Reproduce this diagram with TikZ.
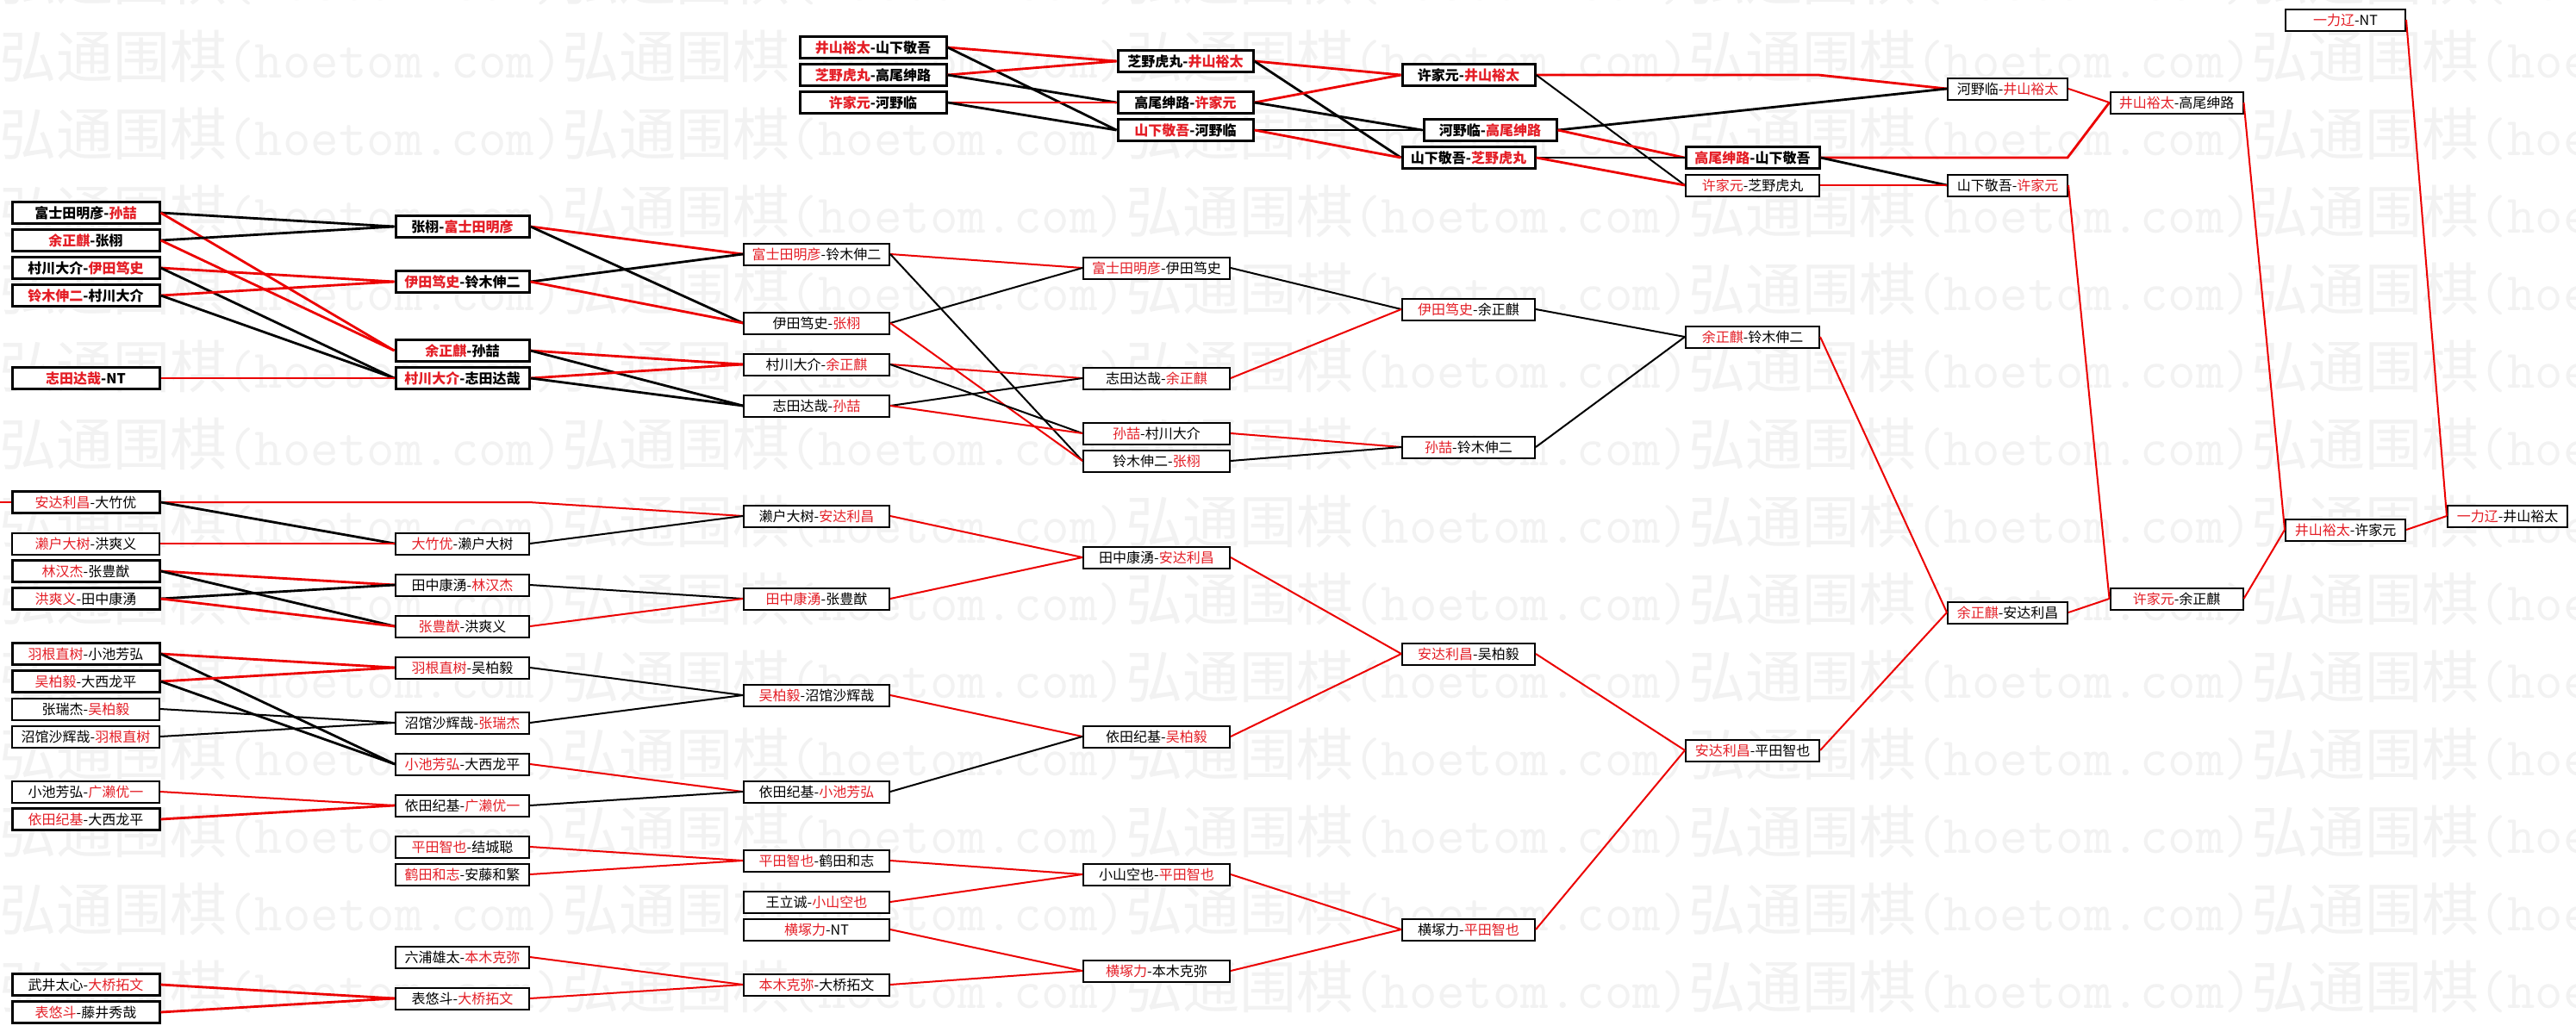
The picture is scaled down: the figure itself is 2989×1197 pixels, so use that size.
\documentclass[tikz,border=0pt]{standalone}
\usepackage{fontspec}
\setmainfont{Noto Sans CJK SC}
\newfontfamily\wmcjk{Noto Sans CJK SC}
\definecolor{wred}{RGB}{228,30,38}
\definecolor{lred}{RGB}{236,0,0}
\newcommand\rd[1]{\textcolor{wred}{#1}}
\newcommand\wmunit{{\wmcjk\fontsize{66}{66}\selectfont 弘通围棋}{\ttfamily\fontsize{63}{63}\selectfont (hoetom.com)}}
\newcommand\wmrow{\wmunit\wmunit\wmunit\wmunit\wmunit\wmunit}
\tikzset{
  box/.style={draw=black, fill=white, inner sep=0pt, minimum height=25pt,
    font=\fontsize{16}{18}\selectfont, line width=2pt},
  tb/.style={box, line width=3pt, font=\fontsize{16}{18}\selectfont\bfseries},
  tr/.style={box, line width=3pt},
  mr/.style={box},
  cwa/.style={minimum width=171pt},
  cwb/.style={minimum width=155pt},
  cwc/.style={minimum width=169pt},
  cwd/.style={minimum width=170pt},
  cwe/.style={minimum width=154pt},
  cwg/.style={minimum width=139pt},
  cwB/.style={minimum width=157pt},
  rl/.style={draw=lred, line width=2pt},
  bl/.style={draw=black, line width=2pt},
  rlt/.style={draw=lred, line width=2.8pt},
  blt/.style={draw=black, line width=2.8pt},
  wm/.style={text=black!5, inner sep=0pt}
}
\begin{document}
\begin{tikzpicture}[x=1pt,y=-1pt]
\useasboundingbox (0,0) rectangle (2989,1197);
\fill[white] (0,0) rectangle (2989,1197);
\begin{scope}
\clip (0,0) rectangle (2989,1197);
\foreach \k in {0,...,14} {\node[wm, anchor=base west] (wm\k) at (-654,{90*\k}) {\wmrow};}
\end{scope}

% ---------- column 1 ----------
\node[tb,cwa] (a15) at (99.5,247) {富士田明彦-\rd{孙喆}};
\node[tb,cwa] (a17) at (99.5,279) {\rd{余正麒}-张栩};
\node[tb,cwa] (a19) at (99.5,311) {村川大介-\rd{伊田笃史}};
\node[tb,cwa] (a21) at (99.5,343) {\rd{铃木伸二}-村川大介};
\node[tb,cwa] (a27) at (99.5,439) {\rd{志田达哉}-NT};
\node[tr,cwa] (a36) at (99.5,583) {\rd{安达利昌}-大竹优};
\node[mr,cwa] (a39) at (99.5,631) {\rd{濑户大树}-洪爽义};
\node[tr,cwa] (a41) at (99.5,663) {\rd{林汉杰}-张豊猷};
\node[tr,cwa] (a43) at (99.5,695) {\rd{洪爽义}-田中康湧};
\node[tr,cwa] (a47) at (99.5,759) {\rd{羽根直树}-小池芳弘};
\node[tr,cwa] (a49) at (99.5,791) {\rd{吴柏毅}-大西龙平};
\node[mr,cwa] (a51) at (99.5,823) {张瑞杰-\rd{吴柏毅}};
\node[mr,cwa] (a53) at (99.5,855) {沼馆沙辉哉-\rd{羽根直树}};
\node[mr,cwa] (a57) at (99.5,919) {小池芳弘-\rd{广濑优一}};
\node[tr,cwa] (a59) at (99.5,951) {\rd{依田纪基}-大西龙平};
\node[tr,cwa] (a71) at (99.5,1143) {武井太心-\rd{大桥拓文}};
\node[tr,cwa] (a73) at (99.5,1175) {\rd{表悠斗}-藤井秀哉};

% ---------- column 2 ----------
\node[tb,cwb] (b16) at (536.5,263) {张栩-\rd{富士田明彦}};
\node[tb,cwb] (b20) at (536.5,327) {\rd{伊田笃史}-铃木伸二};
\node[tb,cwb] (b25) at (536.5,407) {\rd{余正麒}-孙喆};
\node[tb,cwb] (b27) at (536.5,439) {\rd{村川大介}-志田达哉};
\node[mr,cwb] (b39) at (536.5,631) {\rd{大竹优}-濑户大树};
\node[mr,cwb] (b42) at (536.5,679) {田中康湧-\rd{林汉杰}};
\node[mr,cwb] (b45) at (536.5,727) {\rd{张豊猷}-洪爽义};
\node[mr,cwb] (b48) at (536.5,775) {\rd{羽根直树}-吴柏毅};
\node[mr,cwb] (b52) at (536.5,839) {沼馆沙辉哉-\rd{张瑞杰}};
\node[mr,cwb] (b55) at (536.5,887) {\rd{小池芳弘}-大西龙平};
\node[mr,cwb] (b58) at (536.5,935) {依田纪基-\rd{广濑优一}};
\node[mr,cwb] (b61) at (536.5,983) {\rd{平田智也}-结城聪};
\node[mr,cwb] (b63) at (536.5,1015) {\rd{鹤田和志}-安藤和繁};
\node[mr,cwb] (b69) at (536.5,1111) {六浦雄太-\rd{本木克弥}};
\node[mr,cwb] (b72) at (536.5,1159) {表悠斗-\rd{大桥拓文}};

% ---------- column 3 ----------
\node[mr,cwc] (c18) at (947.5,295) {\rd{富士田明彦}-铃木伸二};
\node[mr,cwc] (c23) at (947.5,375) {伊田笃史-\rd{张栩}};
\node[mr,cwc] (c26) at (947.5,423) {村川大介-\rd{余正麒}};
\node[mr,cwc] (c29) at (947.5,471) {志田达哉-\rd{孙喆}};
\node[mr,cwc] (c37) at (947.5,599) {濑户大树-\rd{安达利昌}};
\node[mr,cwc] (c43) at (947.5,695) {\rd{田中康湧}-张豊猷};
\node[mr,cwc] (c50) at (947.5,807) {\rd{吴柏毅}-沼馆沙辉哉};
\node[mr,cwc] (c57) at (947.5,919) {依田纪基-\rd{小池芳弘}};
\node[mr,cwc] (c62) at (947.5,999) {\rd{平田智也}-鹤田和志};
\node[mr,cwc] (c65) at (947.5,1047) {王立诚-\rd{小山空也}};
\node[mr,cwc] (c67) at (947.5,1079) {\rd{横塚力}-NT};
\node[mr,cwc] (c71) at (947.5,1143) {\rd{本木克弥}-大桥拓文};

% ---------- column 4 ----------
\node[mr,cwd] (d19) at (1342,311) {\rd{富士田明彦}-伊田笃史};
\node[mr,cwd] (d27) at (1342,439) {志田达哉-\rd{余正麒}};
\node[mr,cwd] (d31) at (1342,503) {\rd{孙喆}-村川大介};
\node[mr,cwd] (d33) at (1342,535) {铃木伸二-\rd{张栩}};
\node[mr,cwd] (d40) at (1342,647) {田中康湧-\rd{安达利昌}};
\node[mr,cwd] (d53) at (1342,855) {依田纪基-\rd{吴柏毅}};
\node[mr,cwd] (d63) at (1342,1015) {小山空也-\rd{平田智也}};
\node[mr,cwd] (d70) at (1342,1127) {\rd{横塚力}-本木克弥};

% ---------- column 5 ----------
\node[mr,cwe] (e22) at (1704,359) {\rd{伊田笃史}-余正麒};
\node[mr,cwe] (e32) at (1704,519) {\rd{孙喆}-铃木伸二};
\node[mr,cwe] (e47) at (1704,759) {\rd{安达利昌}-吴柏毅};
\node[mr,cwe] (e67) at (1704,1079) {横塚力-\rd{平田智也}};

% ---------- columns 6 to 10 ----------
\node[mr,cwb] (f24) at (2033.5,391) {\rd{余正麒}-铃木伸二};
\node[mr,cwb] (f54) at (2033.5,871) {\rd{安达利昌}-平田智也};
\node[mr,cwg] (g44) at (2329.5,711) {\rd{余正麒}-安达利昌};
\node[mr,cwe] (h43) at (2525.5,695) {\rd{许家元}-余正麒};
\node[mr,cwg] (i38) at (2721.5,615) {\rd{井山裕太}-许家元};
\node[mr,cwg] (i1) at (2721.5,23) {\rd{一力辽}-NT};
\node[mr,cwg] (j37) at (2909.5,599) {\rd{一力辽}-井山裕太};

% ---------- top cluster ----------
\node[tb,cwd] (tA3) at (1013,55) {\rd{井山裕太}-山下敬吾};
\node[tb,cwd] (tA5) at (1013,87) {\rd{芝野虎丸}-高尾绅路};
\node[tb,cwd] (tA7) at (1013,119) {\rd{许家元}-河野临};
\node[tb,cwB] (tB4) at (1375.5,71) {芝野虎丸-\rd{井山裕太}};
\node[tb,cwB] (tB7) at (1375.5,119) {高尾绅路-\rd{许家元}};
\node[tb,cwB] (tB9) at (1375.5,151) {\rd{山下敬吾}-河野临};
\node[tb,cwe] (tC5) at (1704,87) {许家元-\rd{井山裕太}};
\node[tb,cwe] (tC9) at (1729,151) {河野临-\rd{高尾绅路}};
\node[tb,cwe] (tC11) at (1704,183) {山下敬吾-\rd{芝野虎丸}};
\node[tb,cwb] (tD11) at (2033.5,183) {\rd{高尾绅路}-山下敬吾};
\node[mr,cwb] (tD13) at (2033.5,215) {\rd{许家元}-芝野虎丸};
\node[mr,cwg] (tE6) at (2329.5,103) {河野临-\rd{井山裕太}};
\node[mr,cwg] (tE13) at (2329.5,215) {山下敬吾-\rd{许家元}};
\node[mr,cwe] (tF7) at (2525.5,119) {\rd{井山裕太}-高尾绅路};

\coordinate (stub) at (0,583);
\coordinate (bendA) at (614,583);
\coordinate (bendB) at (2110,87);
\coordinate (bendC) at (2399,183);

% ---------- connectors: top-left group ----------
\draw[blt] (a15.east) -- (b16.west);
\draw[rlt] (a15.east) -- (b25.west);
\draw[blt] (a17.east) -- (b16.west);
\draw[rlt] (a17.east) -- (b25.west);
\draw[rlt] (a19.east) -- (b20.west);
\draw[blt] (a19.east) -- (b27.west);
\draw[rlt] (a21.east) -- (b20.west);
\draw[blt] (a21.east) -- (b27.west);
\draw[rlt] (a27.east) -- (b27.west);
\draw[rlt] (b16.east) -- (c18.west);
\draw[blt] (b16.east) -- (c23.west);
\draw[blt] (b20.east) -- (c18.west);
\draw[rlt] (b20.east) -- (c23.west);
\draw[rlt] (b25.east) -- (c26.west);
\draw[blt] (b25.east) -- (c29.west);
\draw[rlt] (b27.east) -- (c26.west);
\draw[blt] (b27.east) -- (c29.west);
\draw[rl] (c18.east) -- (d19.west);
\draw[bl] (c18.east) -- (d33.west);
\draw[bl] (c23.east) -- (d19.west);
\draw[rl] (c23.east) -- (d33.west);
\draw[rl] (c26.east) -- (d27.west);
\draw[bl] (c26.east) -- (d31.west);
\draw[bl] (c29.east) -- (d27.west);
\draw[rl] (c29.east) -- (d31.west);
\draw[bl] (d19.east) -- (e22.west);
\draw[rl] (d27.east) -- (e22.west);
\draw[rl] (d31.east) -- (e32.west);
\draw[bl] (d33.east) -- (e32.west);
\draw[bl] (e22.east) -- (f24.west);
\draw[bl] (e32.east) -- (f24.west);
\draw[rl] (f24.east) -- (g44.west);

% ---------- connectors: middle group ----------
\draw[rl] (stub) -- (a36.west);
\draw[rl] (a36.east) -- (bendA) -- (c37.west);
\draw[blt] (a36.east) -- (b39.west);
\draw[rl] (a39.east) -- (b39.west);
\draw[rlt] (a41.east) -- (b42.west);
\draw[blt] (a41.east) -- (b45.west);
\draw[blt] (a43.east) -- (b42.west);
\draw[rlt] (a43.east) -- (b45.west);
\draw[rlt] (a47.east) -- (b48.west);
\draw[blt] (a47.east) -- (b55.west);
\draw[rlt] (a49.east) -- (b48.west);
\draw[blt] (a49.east) -- (b55.west);
\draw[bl] (a51.east) -- (b52.west);
\draw[bl] (a53.east) -- (b52.west);
\draw[rl] (a57.east) -- (b58.west);
\draw[rlt] (a59.east) -- (b58.west);
\draw[bl] (b39.east) -- (c37.west);
\draw[bl] (b42.east) -- (c43.west);
\draw[rl] (b45.east) -- (c43.west);
\draw[bl] (b48.east) -- (c50.west);
\draw[bl] (b52.east) -- (c50.west);
\draw[rl] (b55.east) -- (c57.west);
\draw[bl] (b58.east) -- (c57.west);
\draw[rl] (c37.east) -- (d40.west);
\draw[rl] (c43.east) -- (d40.west);
\draw[rl] (c50.east) -- (d53.west);
\draw[bl] (c57.east) -- (d53.west);
\draw[rl] (d40.east) -- (e47.west);
\draw[rl] (d53.east) -- (e47.west);
\draw[rl] (e47.east) -- (f54.west);

% ---------- connectors: bottom group ----------
\draw[rlt] (a71.east) -- (b72.west);
\draw[rlt] (a73.east) -- (b72.west);
\draw[rl] (b61.east) -- (c62.west);
\draw[rl] (b63.east) -- (c62.west);
\draw[rl] (b69.east) -- (c71.west);
\draw[rl] (b72.east) -- (c71.west);
\draw[rl] (c62.east) -- (d63.west);
\draw[rl] (c65.east) -- (d63.west);
\draw[rl] (c67.east) -- (d70.west);
\draw[rl] (c71.east) -- (d70.west);
\draw[rl] (d63.east) -- (e67.west);
\draw[rl] (d70.east) -- (e67.west);
\draw[rl] (e67.east) -- (f54.west);
\draw[rl] (f54.east) -- (g44.west);
\draw[rl] (g44.east) -- (h43.west);
\draw[rl] (h43.east) -- (i38.west);

% ---------- connectors: top cluster ----------
\draw[rlt] (tA3.east) -- (tB4.west);
\draw[blt] (tA3.east) -- (tB9.west);
\draw[rlt] (tA5.east) -- (tB4.west);
\draw[blt] (tA5.east) -- (tB7.west);
\draw[rlt] (tA7.east) -- (tB7.west);
\draw[blt] (tA7.east) -- (tB9.west);
\draw[rlt] (tB4.east) -- (tC5.west);
\draw[blt] (tB4.east) -- (tC11.west);
\draw[rlt] (tB7.east) -- (tC5.west);
\draw[blt] (tB7.east) -- (tC9.west);
\draw[blt] (tB9.east) -- (tC9.west);
\draw[rlt] (tB9.east) -- (tC11.west);
\draw[rlt] (tC5.east) -- (bendB) -- (tE6.west);
\draw[bl] (tC5.east) -- (tD13.west);
\draw[blt] (tC9.east) -- (tE6.west);
\draw[rlt] (tC9.east) -- (tD11.west);
\draw[blt] (tC11.east) -- (tD11.west);
\draw[rlt] (tC11.east) -- (tD13.west);
\draw[rlt] (tD11.east) -- (bendC) -- (tF7.west);
\draw[blt] (tD11.east) -- (tE13.west);
\draw[rl] (tD13.east) -- (tE13.west);
\draw[rl] (tE6.east) -- (tF7.west);
\draw[rl] (tE13.east) -- (h43.west);
\draw[rl] (tF7.east) -- (i38.west);
\draw[rl] (i38.east) -- (j37.west);
\draw[rl] (i1.east) -- (j37.west);
\end{tikzpicture}
\end{document}
